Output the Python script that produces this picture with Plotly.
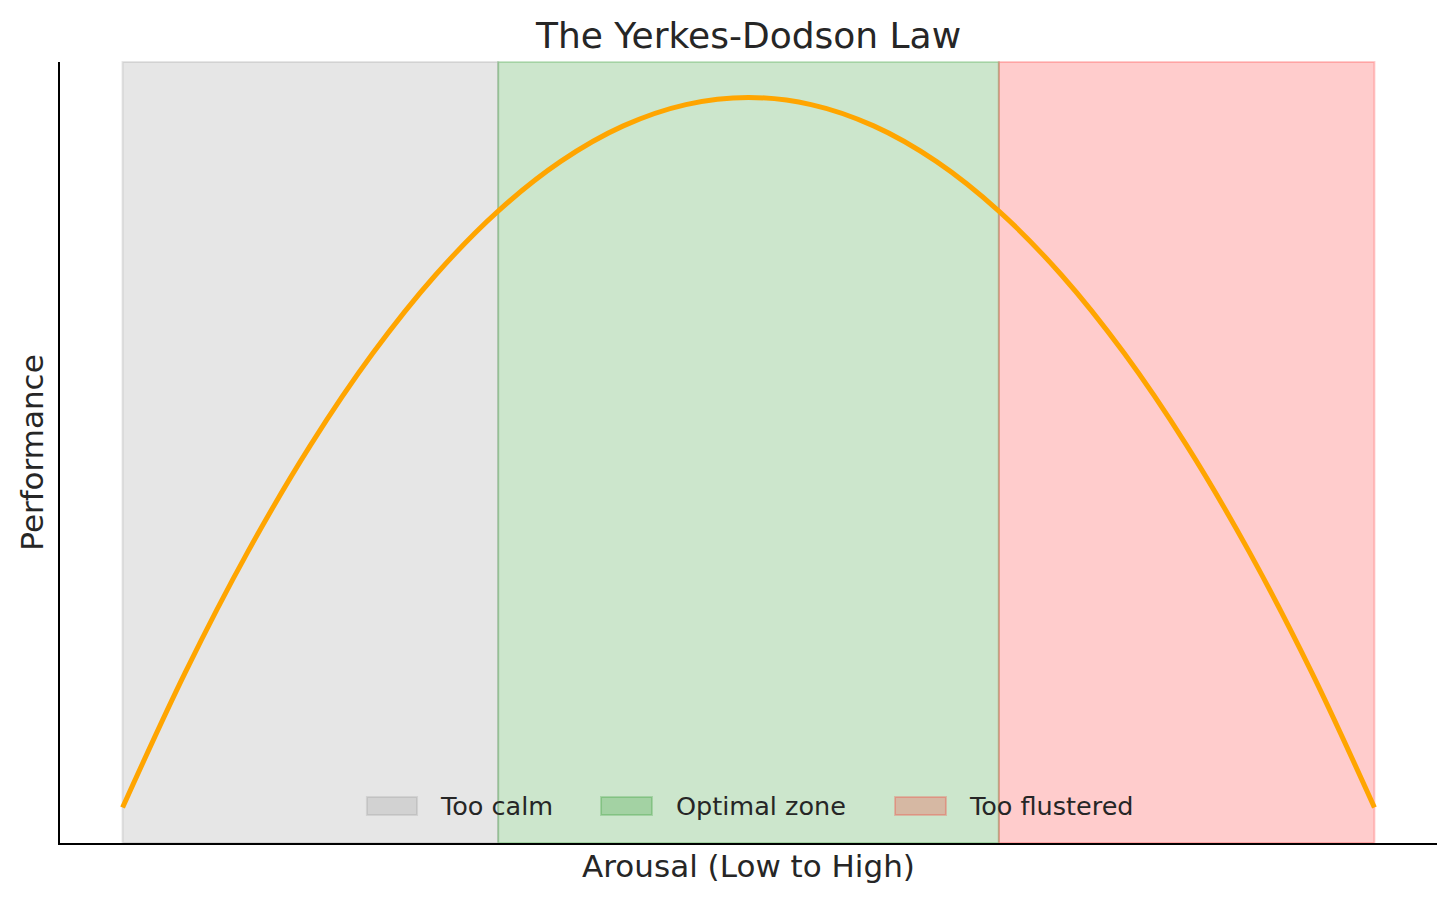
import plotly.graph_objects as go

# Curve (arousal vs performance)
arousal = [0, 0.5, 1, 1.5, 2, 2.5, 3, 3.5, 4, 4.5, 5, 5.5, 6, 6.5, 7, 7.5, 8, 8.5, 9, 9.5, 10]
performance = [0, 4.75, 9, 12.75, 16, 18.75, 21, 22.75, 24, 24.75, 25,
               24.75, 24, 22.75, 21, 18.75, 16, 12.75, 9, 4.75, 0]

# Zones
zone_labels = ["Too calm", "Optimal zone", "Too flustered"]
zone_starts = [0, 3, 7]
zone_ends = [3, 7, 10]
zone_colors = ["rgba(128,128,128,0.2)", "rgba(0,128,0,0.2)", "rgba(255,0,0,0.2)"]

FONT = "DejaVu Sans"
TXT = "#262626"

fig = go.Figure()
fig.add_trace(go.Scatter(
    x=arousal, y=performance, mode="lines",
    line=dict(color="#FFA500", width=5, shape="spline", smoothing=1.0),
    showlegend=False, hoverinfo="skip"))

shapes = []
for x0, x1, c in zip(zone_starts, zone_ends, zone_colors):
    shapes.append(dict(type="rect", xref="x", yref="y domain", x0=x0, x1=x1, y0=0, y1=1,
                       fillcolor=c, line=dict(color=c, width=2), layer="below"))

# manual legend (lower center)
leg_patch_x = [(0.2229, 0.2593), (0.3929, 0.4299), (0.6064, 0.6434)]
leg_text_x = [0.2745, 0.4459, 0.6587]
annotations = []
for (p0, p1), tx, c, lab in zip(leg_patch_x, leg_text_x, zone_colors, zone_labels):
    shapes.append(dict(type="rect", xref="paper", yref="paper", x0=p0, x1=p1, y0=0.0359, y1=0.0589,
                       fillcolor=c, line=dict(color=c, width=2), layer="above"))
    annotations.append(dict(xref="paper", yref="paper", x=tx, y=0.0474, text=lab, showarrow=False,
                            xanchor="left", yanchor="middle",
                            font=dict(family=FONT, size=25.5, color=TXT)))

fig.update_layout(
    width=1456, height=903,
    margin=dict(l=52, r=27, t=54, b=68),
    paper_bgcolor="white", plot_bgcolor="white",
    font=dict(family=FONT, color=TXT),
    title=dict(text="The Yerkes-Dodson Law", x=0.5, xanchor="center", y=0.970, yanchor="middle",
               xref="paper", font=dict(family=FONT, size=36, color=TXT)),
    shapes=shapes, annotations=annotations, showlegend=False,
)
fig.update_xaxes(range=[-0.5, 10.5], showgrid=False, zeroline=False, showticklabels=False, ticks="",
                 showline=True, linecolor="black", linewidth=2,
                 title=dict(text="Arousal (Low to High)", standoff=11, font=dict(family=FONT, size=31, color=TXT)),
                 automargin=False)
fig.update_yaxes(range=[-1.25, 26.25], showgrid=False, zeroline=False, showticklabels=False, ticks="",
                 showline=True, linecolor="black", linewidth=2,
                 title=dict(text="Performance", standoff=5, font=dict(family=FONT, size=31, color=TXT)),
                 automargin=False)

fig.write_html("out.html")
